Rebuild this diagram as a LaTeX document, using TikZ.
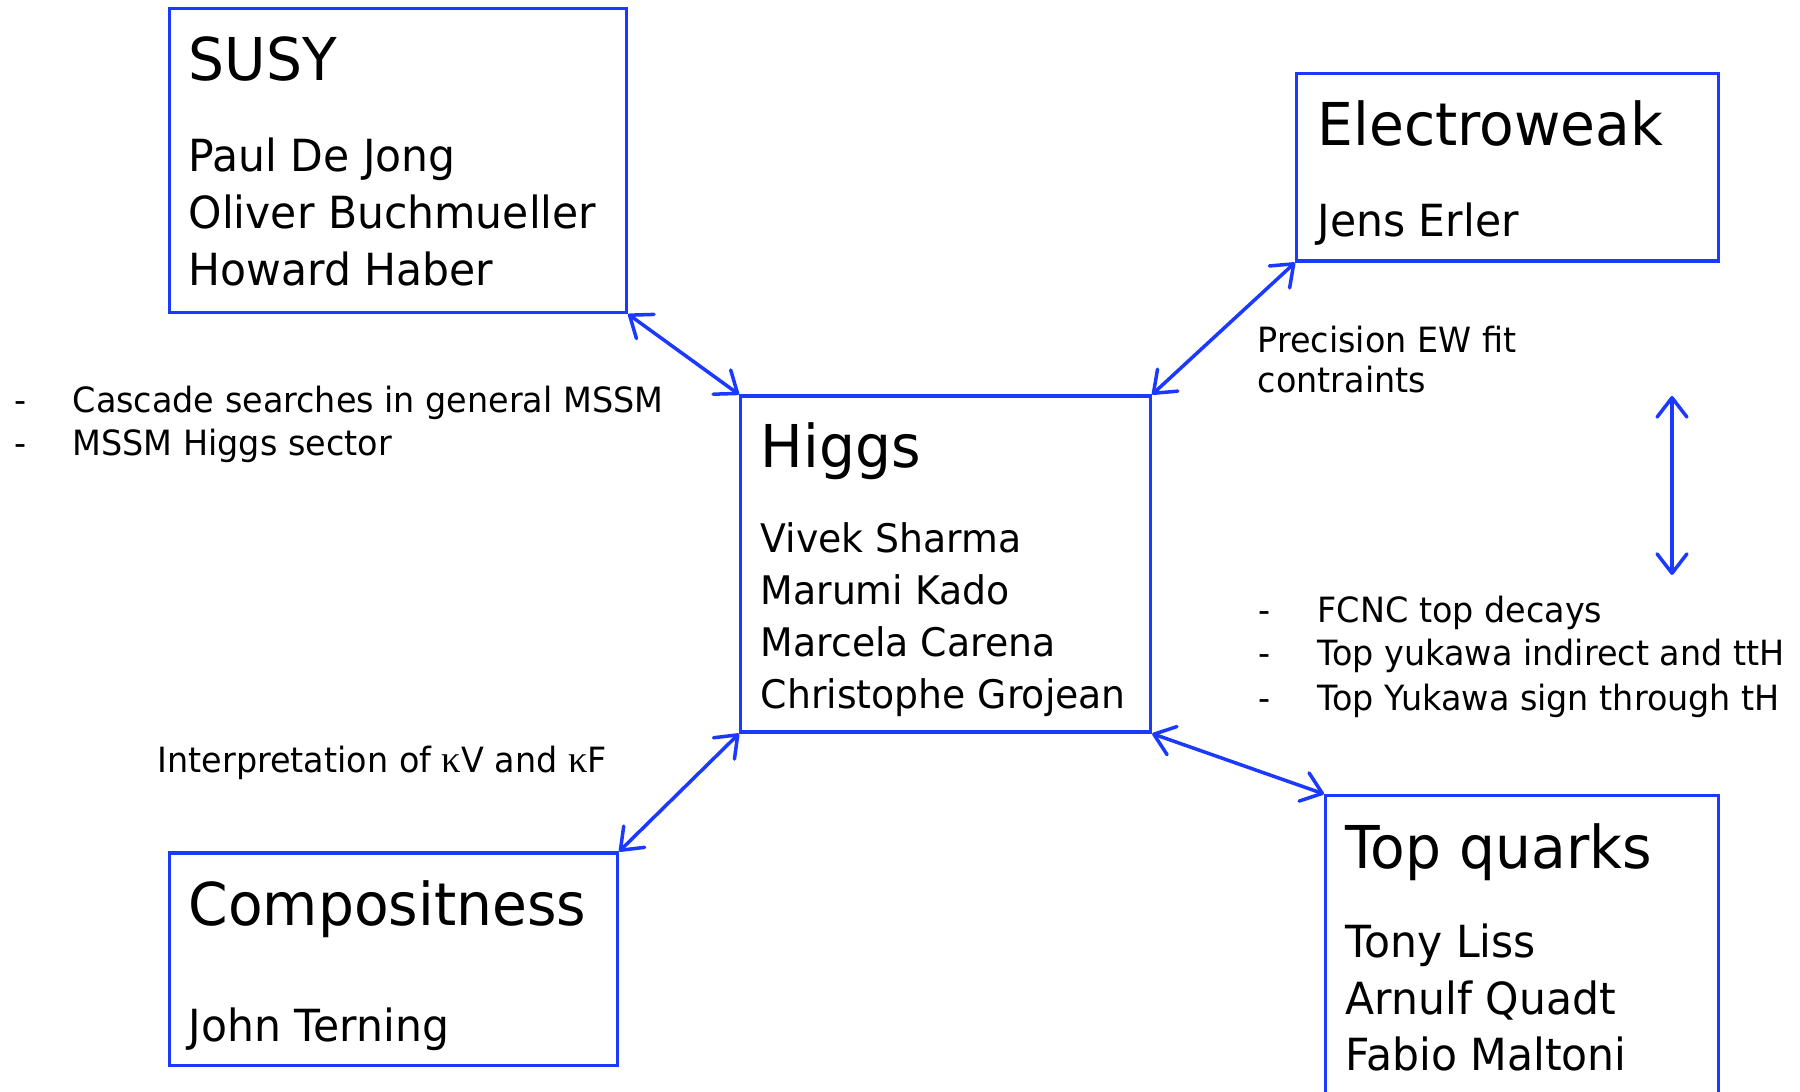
\documentclass[tikz,border=0pt]{standalone}
\usepackage{fontspec}
\setmainfont{DejaVu Sans}[FakeStretch=0.96]
\newfontfamily\greekfont{Liberation Serif}
\usetikzlibrary{arrows.meta}

\definecolor{linkblue}{RGB}{28,58,255}

\tikzset{
  topicbox/.style={draw=linkblue, line width=0.9pt, anchor=north west, inner sep=0pt},
  boxhead/.style={anchor=base west, inner sep=0pt, font=\fontsize{16.8}{20}\selectfont},
  boxname/.style={anchor=base west, inner sep=0pt, font=\fontsize{12.6}{15}\selectfont},
  higgsname/.style={anchor=base west, inner sep=0pt, font=\fontsize{11.2}{14}\selectfont},
  note/.style={anchor=base west, inner sep=0pt, font=\fontsize{9.9}{12}\selectfont},
  link/.style={draw=linkblue, line width=1pt,
    {Straight Barb[round,length=5.5pt,width=8.5pt]}-{Straight Barb[round,length=5.5pt,width=8.5pt]}}
}

\begin{document}
\begin{tikzpicture}

        \path[use as bounding box, clip] (0,0) rectangle (18,10.92);

        % boxes
        \node[topicbox, minimum width=4.575cm, minimum height=3.04cm] (susy) at (1.675,10.85) {};
        \node[topicbox, minimum width=4.215cm, minimum height=1.875cm] (ew) at (12.95,10.20) {};
        \node[topicbox, minimum width=4.10cm, minimum height=3.36cm] (higgs) at (7.39,6.975) {};
        \node[topicbox, minimum width=4.485cm, minimum height=2.128cm] (comp) at (1.675,2.405) {};
        \node[topicbox, minimum width=3.925cm, minimum height=3.3cm] (top) at (13.24,2.98) {};

        % titles
        \node[boxhead] (susyhead) at (1.88,10.11) {SUSY};
        \node[boxhead] (ewhead) at (13.17,9.46) {Electroweak};
        \node[boxhead] (higgshead) at (7.60,6.24) {Higgs};
        \node[boxhead] (comphead) at (1.88,1.66) {Compositness};
        \node[boxhead] (tophead) at (13.45,2.23) {Top quarks};

        % names
        \foreach \who [count=\i] in {Paul De Jong, Oliver Buchmueller, Howard Haber}
          \node[boxname] (susy\i) at (1.88,{9.20-0.57*(\i-1)}) {\who};
        \node[boxname] (ew1) at (13.17,8.553) {Jens Erler};
        \foreach \who [count=\i] in {Vivek Sharma, Marumi Kado, Marcela Carena, Christophe Grojean}
          \node[higgsname] (higgs\i) at (7.60,{5.39-0.518*(\i-1)}) {\who};
        \node[boxname] (comp1) at (1.88,0.503) {John Terning};
        \foreach \who [count=\i] in {Tony Liss, Arnulf Quadt, Fabio Maltoni}
          \node[boxname] (top\i) at (13.45,{1.34-0.565*(\i-1)}) {\who};

        % notes
        \node[note] (susydash1) at (0.14,6.79) {-};
        \node[note] (susynote1) at (0.72,6.79) {Cascade searches in general MSSM};
        \node[note] (susydash2) at (0.14,6.36) {-};
        \node[note] (susynote2) at (0.72,6.36) {MSSM Higgs sector};

        \node[note] (ewnote1) at (12.57,7.39) {Precision EW fit};
        \node[note] (ewnote2) at (12.57,6.99) {contraints};

        \foreach \what/\y [count=\i] in {FCNC top decays/4.69, Top yukawa indirect and ttH/4.26, Top Yukawa sign through tH/3.81}
        {
          \node[note] (topdash\i) at (12.58,\y) {-};
          \node[note] (topnote\i) at (13.17,\y) {\what};
        }

        \node[note] (compnote) at (1.57,3.19) {Interpretation of {\greekfont\fontsize{11}{12}\selectfont κ}V and {\greekfont\fontsize{11}{12}\selectfont κ}F};

        % links
        \draw[link] (susy.south east) -- (higgs.north west);
        \draw[link] (ew.south west) -- (higgs.north east);
        \draw[link] (higgs.south west) -- (comp.north east);
        \draw[link] (higgs.south east) -- (top.north west);

        \coordinate (ewtop) at (16.72,6.96);
        \coordinate (topbot) at (16.72,5.17);
        \draw[link] (ewtop) -- (topbot);

\end{tikzpicture}
\end{document}
